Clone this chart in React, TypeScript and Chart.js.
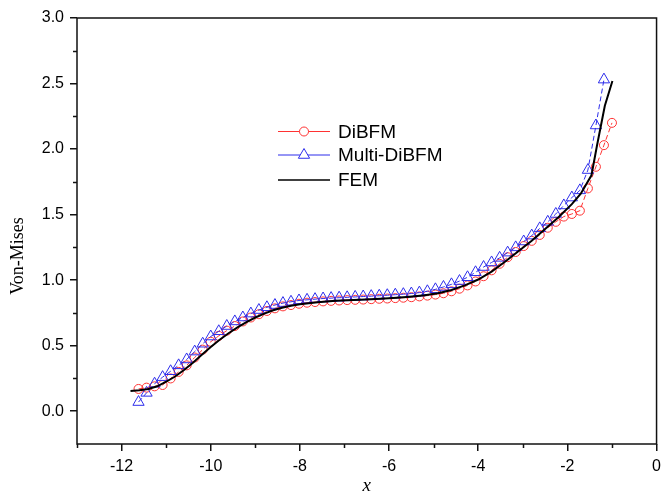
import React, { useEffect, useRef } from 'react';
import { Chart, registerables } from 'chart.js';

Chart.register(...registerables);

// ---- data ----
const diBFM_x = [
  -11.62, -11.44, -11.26, -11.08, -10.9, -10.72, -10.54, -10.36, -10.18, -10.0,
  -9.82, -9.64, -9.46, -9.28, -9.1, -8.92, -8.74, -8.56, -8.38, -8.2,
  -8.02, -7.84, -7.66, -7.48, -7.3, -7.12, -6.94, -6.76, -6.58, -6.4,
  -6.22, -6.04, -5.86, -5.68, -5.5, -5.32, -5.14, -4.96, -4.78, -4.6,
  -4.42, -4.24, -4.06, -3.88, -3.7, -3.52, -3.34, -3.16, -2.98, -2.8,
  -2.62, -2.44, -2.26, -2.08, -1.9, -1.72, -1.54, -1.36, -1.18, -1.0,
];
const diBFM_y = [
  0.17, 0.18, 0.19, 0.2, 0.25, 0.3, 0.35, 0.41, 0.47, 0.53,
  0.575, 0.615, 0.65, 0.685, 0.715, 0.74, 0.765, 0.785, 0.8, 0.81,
  0.82, 0.828, 0.833, 0.838, 0.842, 0.845, 0.848, 0.85, 0.852, 0.855,
  0.858, 0.86, 0.863, 0.866, 0.87, 0.876, 0.882, 0.89, 0.9, 0.915,
  0.935, 0.96, 0.99, 1.03, 1.075, 1.125, 1.175, 1.215, 1.26, 1.3,
  1.345, 1.4, 1.445, 1.485, 1.505, 1.53, 1.7, 1.865, 2.03, 2.2,
];

const multi_x = [
  -11.62, -11.44, -11.26, -11.08, -10.9, -10.72, -10.54, -10.36, -10.18, -10.0,
  -9.82, -9.64, -9.46, -9.28, -9.1, -8.92, -8.74, -8.56, -8.38, -8.2,
  -8.02, -7.84, -7.66, -7.48, -7.3, -7.12, -6.94, -6.76, -6.58, -6.4,
  -6.22, -6.04, -5.86, -5.68, -5.5, -5.32, -5.14, -4.96, -4.78, -4.6,
  -4.42, -4.24, -4.06, -3.88, -3.7, -3.52, -3.34, -3.16, -2.98, -2.8,
  -2.62, -2.44, -2.26, -2.08, -1.9, -1.72, -1.54, -1.36, -1.18,
];
const multi_y = [
  0.07, 0.14, 0.21, 0.26, 0.305, 0.35, 0.395, 0.455, 0.515, 0.57,
  0.61, 0.65, 0.685, 0.715, 0.745, 0.772, 0.793, 0.81, 0.825, 0.835,
  0.845, 0.85, 0.855, 0.86, 0.863, 0.866, 0.869, 0.872, 0.875, 0.878,
  0.881, 0.885, 0.889, 0.893, 0.898, 0.905, 0.915, 0.93, 0.948, 0.968,
  0.993, 1.022, 1.06, 1.1, 1.135, 1.17, 1.21, 1.25, 1.295, 1.34,
  1.395, 1.445, 1.505, 1.57, 1.63, 1.685, 1.84, 2.18, 2.53,
];

const fem_x = [
  -11.8, -11.6, -11.4, -11.2, -11.0, -10.8, -10.6, -10.4, -10.2, -10.0,
  -9.8, -9.6, -9.4, -9.2, -9.0, -8.8, -8.6, -8.4, -8.2, -8.0,
  -7.6, -7.2, -6.8, -6.4, -6.0, -5.6, -5.2, -4.9, -4.6, -4.3,
  -4.0, -3.7, -3.4, -3.1, -2.8, -2.5, -2.2, -1.9, -1.7, -1.46,
  -1.34, -1.16, -0.99,
];
const fem_y = [
  0.155, 0.16, 0.17, 0.19, 0.225, 0.265, 0.315, 0.37, 0.43, 0.49,
  0.545, 0.595, 0.64, 0.68, 0.715, 0.745, 0.77, 0.79, 0.805, 0.817,
  0.832, 0.842, 0.848, 0.855, 0.862, 0.872, 0.885, 0.9, 0.925, 0.96,
  1.005, 1.065, 1.14, 1.22, 1.3, 1.39, 1.48, 1.58, 1.66, 1.8,
  2.02, 2.33, 2.52,
];

const xTicks = [-12, -10, -8, -6, -4, -2, 0];
const yTicks = [0, 0.5, 1.0, 1.5, 2.0, 2.5, 3.0];
const xMinorTicks = [-13, -11, -9, -7, -5, -3, -1];
const yMinorTicks = [0.25, 0.75, 1.25, 1.75, 2.25, 2.75];

const seriesNames = ['DiBFM', 'Multi-DiBFM', 'FEM'];
const xTitle = 'x';
const yTitle = 'Von-Mises';

const RED = 'rgb(255,50,50)';
const BLUE = 'rgb(45,45,235)';
const BLACK = '#000';

const toPoints = (xs: number[], ys: number[]) => xs.map((x, i) => ({ x, y: ys[i] }));

const decorPlugin = {
  id: 'decor',
  afterDraw(chart: any) {
    const { ctx, chartArea } = chart;
    const { left, right, top, bottom } = chartArea;
    const xs = chart.scales.x;
    const ys = chart.scales.y;
    ctx.save();
    // frame
    ctx.strokeStyle = '#111';
    ctx.lineWidth = 1.5;
    ctx.strokeRect(left, top, right - left, bottom - top);
    // minor ticks
    ctx.beginPath();
    yMinorTicks.forEach((v) => {
      const p = Math.round(ys.getPixelForValue(v)) + 0.5;
      ctx.moveTo(left - 4, p);
      ctx.lineTo(left, p);
    });
    xMinorTicks.forEach((v) => {
      const p = Math.round(xs.getPixelForValue(v)) + 0.5;
      ctx.moveTo(p, bottom);
      ctx.lineTo(p, bottom + 4);
    });
    ctx.stroke();

    // axis titles
    ctx.fillStyle = '#000';
    ctx.textAlign = 'center';
    ctx.textBaseline = 'middle';
    ctx.font = '18px "Liberation Serif"';
    ctx.save();
    ctx.translate(18, 256);
    ctx.rotate(-Math.PI / 2);
    ctx.fillText(yTitle, 0, 0);
    ctx.restore();
    ctx.font = 'italic 19px "Liberation Serif"';
    ctx.fillText(xTitle, (left + right) / 2, 486);

    // legend
    const rows = [131.5, 155, 180];
    const colors = [RED, BLUE, BLACK];
    const lx0 = 278, lx1 = 330, lxm = 304;
    ctx.font = '19px "Liberation Sans"';
    ctx.textAlign = 'left';
    rows.forEach((ry, i) => {
      ctx.strokeStyle = colors[i];
      ctx.lineWidth = i === 2 ? 1.5 : 1;
      ctx.beginPath();
      ctx.moveTo(lx0, ry);
      ctx.lineTo(lx1, ry);
      ctx.stroke();
      if (i === 0) {
        ctx.fillStyle = '#fff';
        ctx.beginPath();
        ctx.arc(lxm, ry, 4.5, 0, Math.PI * 2);
        ctx.fill();
        ctx.stroke();
      } else if (i === 1) {
        const r = 6.5;
        ctx.fillStyle = '#fff';
        ctx.beginPath();
        ctx.moveTo(lxm, ry - r);
        ctx.lineTo(lxm + 0.866 * r, ry + 0.5 * r);
        ctx.lineTo(lxm - 0.866 * r, ry + 0.5 * r);
        ctx.closePath();
        ctx.fill();
        ctx.stroke();
      }
      ctx.fillStyle = '#000';
      ctx.fillText(seriesNames[i], 338, ry + 1);
    });
    ctx.restore();
  },
};

export default function App() {
  const ref = useRef<HTMLCanvasElement | null>(null);
  useEffect(() => {
    if (!ref.current) return;
    const tickFont = { family: '"Liberation Sans"', size: 16 };
    const chart = new Chart(ref.current, {
      type: 'scatter',
      data: {
        datasets: [
          {
            label: seriesNames[2],
            data: toPoints(fem_x, fem_y),
            showLine: true,
            borderColor: BLACK,
            borderWidth: 2,
            pointRadius: 0,
            order: 0,
          },
          {
            label: seriesNames[0],
            data: toPoints(diBFM_x, diBFM_y),
            showLine: true,
            borderColor: RED,
            borderWidth: 1,
            borderDash: [5, 3],
            pointStyle: 'circle',
            pointRadius: 4.5,
            pointBorderColor: RED,
            pointBackgroundColor: 'rgba(0,0,0,0)',
            pointBorderWidth: 1,
            order: 2,
          },
          {
            label: seriesNames[1],
            data: toPoints(multi_x, multi_y),
            showLine: true,
            borderColor: BLUE,
            borderWidth: 1,
            borderDash: [5, 3],
            pointStyle: 'triangle',
            pointRadius: 6.5,
            pointBorderColor: BLUE,
            pointBackgroundColor: 'rgba(0,0,0,0)',
            pointBorderWidth: 1,
            order: 1,
          },
        ],
      },
      options: {
        animation: false,
        responsive: false,
        devicePixelRatio: 1,
        layout: { padding: { left: 0, right: 5, top: 18, bottom: 0 } },
        plugins: { legend: { display: false }, tooltip: { enabled: false } },
        scales: {
          x: {
            type: 'linear',
            min: -13,
            max: 0,
            afterBuildTicks: (s: any) => {
              s.ticks = xTicks.map((v) => ({ value: v }));
            },
            afterFit: (s: any) => {
              s.height = 51;
            },
            ticks: {
              font: tickFont,
              color: '#000',
              padding: 6,
              maxRotation: 0,
              autoSkip: false,
              callback: (v: any) => String(v),
            },
            grid: {
              drawOnChartArea: false,
              drawTicks: true,
              tickLength: 7,
              color: '#111',
              lineWidth: 1.5,
            },
            border: { display: false },
          },
          y: {
            type: 'linear',
            min: -0.25,
            max: 3,
            afterBuildTicks: (s: any) => {
              s.ticks = yTicks.map((v) => ({ value: v }));
            },
            afterFit: (s: any) => {
              s.width = 77;
            },
            ticks: {
              font: tickFont,
              color: '#000',
              padding: 6,
              autoSkip: false,
              callback: (v: any) => Number(v).toFixed(1),
            },
            grid: {
              drawOnChartArea: false,
              drawTicks: true,
              tickLength: 7,
              color: '#111',
              lineWidth: 1.5,
            },
            border: { display: false },
          },
        },
      },
      plugins: [decorPlugin],
    } as any);
    return () => chart.destroy();
  }, []);
  return (
    <div style={{ position: 'fixed', left: 0, top: 0, width: 667, height: 495, background: '#fff' }}>
      <canvas ref={ref} width={667} height={495} style={{ display: 'block', width: 667, height: 495 }} />
    </div>
  );
}
